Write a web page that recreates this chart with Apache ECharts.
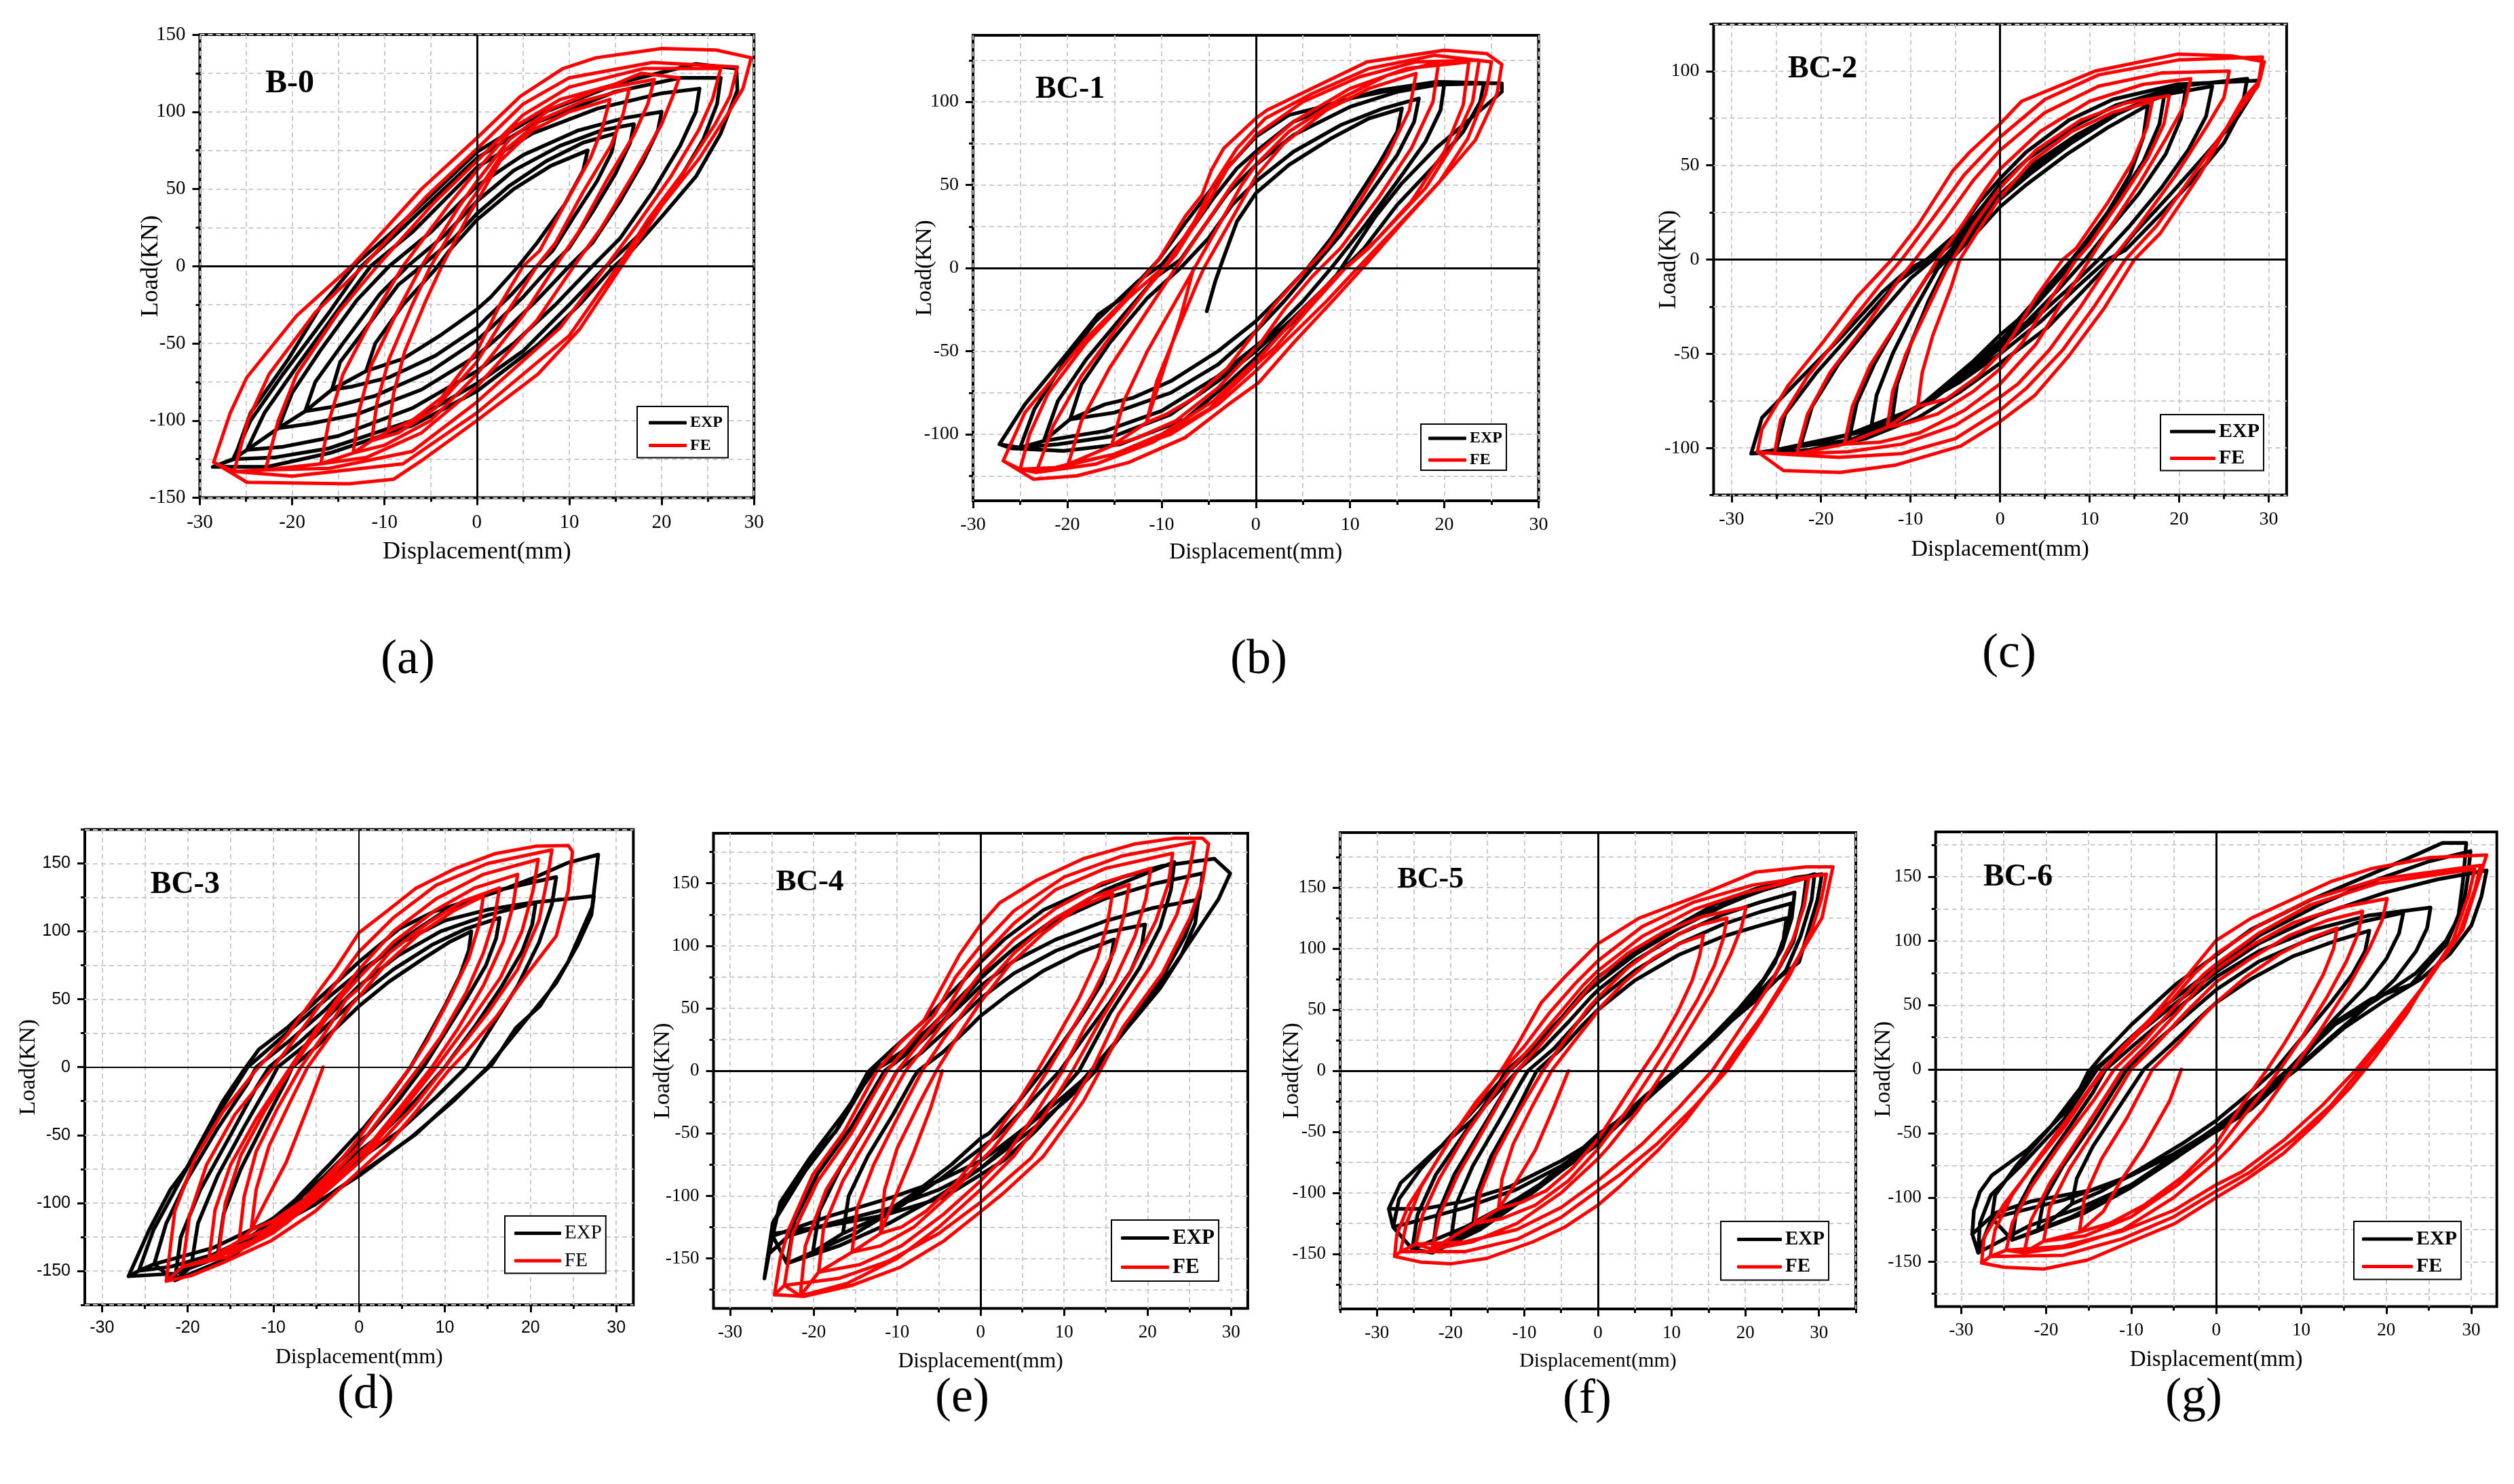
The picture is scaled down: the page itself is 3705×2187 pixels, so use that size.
<!DOCTYPE html>
<html><head><meta charset="utf-8">
<script src="https://cdn.jsdelivr.net/npm/echarts@6/dist/echarts.min.js"></script>
<style>html,body{margin:0;padding:0;background:#fff}#c{width:3705px;height:2187px}</style>
</head><body><div id="c"></div>
<script>
// ---------------- DATA ----------------
const panelTitles = ['B-0','BC-1','BC-2','BC-3','BC-4','BC-5','BC-6'];
const subLabels = ['(a)','(b)','(c)','(d)','(e)','(f)','(g)'];
const seriesNames = ['EXP','FE'];
const xAxisTitle = 'Displacement(mm)';
const yAxisTitle = 'Load(KN)';
const xMajor = [-30,-20,-10,0,10,20,30];
const xMinor = [-25,-15,-5,5,15,25];
const xMinorWide = [-35,-25,-15,-5,5,15,25,35];
const yMajor150 = [-150,-100,-50,0,50,100,150];
const yMajor100 = [-100,-50,0,50,100];
const yMinor125 = [-125,-75,-25,25,75,125];
const yMinor175 = [-175,-125,-75,-25,25,75,125,175];
const xRanges = [[-30,30],[-30,30],[-32,32],[-32,32],[-32,32],[-35,35],[-33,33]];
const yRanges = [[-150,150],[-140,140],[-125,125],[-175,175],[-190,190],[-195,195],[-185,185]];

const aExp = [
[-12,-68],[-11,-50],[-8,-25],[-4.5,-2],[-3,10],[0,30],[4,50],[8,65],[12,75],[11.5,62],[9.5,40],[6.5,15],[4.5,0],[1.5,-20],[0,-28],[-4,-45],[-8,-60],[-12,-68],
[-15.7,-80],[-14.8,-62],[-12,-40],[-8.5,-12],[-6,0],[-2.5,18],[0,34],[3.5,52],[7.5,68],[11.5,80],[15,86],[14.6,74],[13,55],[10.5,32],[8.2,10],[6.5,0],[3.8,-18],[1,-34],[0,-40],[-4.5,-58],[-9.5,-72],[-13.5,-78],[-15.7,-80],
[-18.6,-94],[-17.5,-75],[-14.5,-50],[-10.5,-18],[-7.5,0],[-3.5,20],[0,42],[4,62],[9,78],[13.5,88],[17,92],[16.6,80],[15,60],[12.5,35],[10,12],[8,0],[5,-20],[1.5,-40],[0,-48],[-5,-68],[-11,-84],[-15.5,-91],[-18.6,-94],
[-21.5,-105],[-20,-82],[-17,-55],[-13,-22],[-9.5,0],[-5,22],[0,52],[5,72],[11,88],[16,96],[20,100],[19.6,88],[18,68],[15.5,42],[12.5,15],[10,0],[6.5,-22],[2.5,-45],[0,-58],[-6,-80],[-13,-96],[-18,-102],[-21.5,-105],
[-24.9,-119],[-23,-95],[-19.5,-65],[-15,-28],[-11.5,0],[-7,22],[0,64],[6,86],[13,102],[20,112],[24.1,115],[23.7,100],[22,78],[19,48],[15.5,18],[12.5,0],[8.5,-25],[4,-50],[0,-68],[-7,-92],[-15,-110],[-21,-117],[-24.9,-119],
[-26.4,-125],[-24.5,-100],[-21,-70],[-16,-30],[-12.5,0],[-8,25],[0,70],[6,92],[15,113],[22,122],[26.4,122],[26,105],[24.5,82],[21.5,52],[17.5,20],[14,0],[10,-25],[5,-55],[0,-76],[-7,-100],[-16,-118],[-22,-124],[-26.4,-125],
[-28.6,-130],[-26.3,-125],[-24.5,-95],[-20.4,-60],[-16.8,-25],[-13.2,1],[-9.2,22],[0,74],[6.6,98],[15.6,119],[23.7,131],[28.1,128],[28.2,114],[26.4,86],[23.7,58],[20,32],[16.9,11],[14.7,-1],[11.1,-25],[6.6,-51],[0,-81],[-6.9,-103],[-15.9,-121],[-22.7,-130],[-28.6,-130]
];
const aFe = [
[-9.6,-107],[-9,-82],[-7.8,-55],[-5.5,-22],[-3.8,0],[-1,32],[0,42],[2.5,68],[6,88],[10,100],[14.4,108],[13.6,90],[12.3,70],[9.5,40],[6.8,10],[5,0],[2.5,-25],[0,-55],[-3.8,-85],[-7,-100],[-9.6,-107],
[-11.4,-113],[-10.8,-88],[-9.5,-60],[-7,-25],[-5,0],[-1.5,35],[0,48],[3,75],[7,95],[11.5,107],[16.5,115],[15.8,98],[14.5,78],[11.5,48],[8.5,15],[6.5,0],[3.5,-28],[0,-62],[-4.5,-92],[-8.5,-108],[-11.4,-113],
[-13.4,-121],[-12.8,-95],[-11.5,-65],[-8.5,-28],[-6,0],[-2,38],[0,55],[3.5,82],[8,102],[13,114],[19.2,121],[18.5,105],[17,85],[14,55],[11,22],[8.5,0],[5,-32],[0,-70],[-5,-100],[-10,-116],[-13.4,-121],
[-16.9,-128],[-16,-100],[-14.5,-70],[-11,-30],[-8,0],[-3,40],[0,62],[4,90],[9,108],[15,118],[17.8,125],[21.9,122],[21.2,110],[20,92],[17,60],[13.5,25],[10.5,0],[6.5,-35],[0,-78],[-6,-108],[-12,-124],[-16.9,-128],
[-22.9,-132],[-21.5,-100],[-19.5,-70],[-15,-30],[-10.8,0],[-4.5,42],[0,68],[5,98],[10,116],[18,128],[26.4,128],[25.5,108],[24,88],[21,58],[17,24],[14,0],[9,-40],[0,-88],[-7,-120],[-16,-131],[-22.9,-132],
[-26.3,-133],[-24.8,-100],[-22.5,-70],[-17.5,-30],[-12.3,0],[-5.5,45],[0,76],[5,105],[10,122],[19,132],[28.2,129],[27.4,110],[25.8,92],[22.5,62],[18.5,30],[15.5,2],[10,-45],[0,-95],[-8,-128],[-20,-136],[-26.3,-133],
[-28.5,-127],[-26.7,-95],[-24.9,-72],[-19.5,-32],[-13.4,1],[-6,50],[0,83],[4.7,110],[9.3,128],[12.9,135],[20,141],[25.9,140],[29.7,135],[28.8,115],[27.3,100],[24.1,70],[20,39],[16.9,11],[11.1,-41],[6.6,-70],[0,-100],[-6,-126],[-9,-138],[-13.9,-141],[-24.9,-140],[-28.5,-127]
];

const bExp = [
[-5.2,-26],[-4.3,-8],[-3.5,5],[-2,28],[0,45],[3.5,62],[8,78],[12,90],[15.5,96],[15,82],[13,62],[10.5,40],[8,18],[5.5,0],[2.5,-18],[0,-32],[-4,-50],[-9,-68],[-13,-78],[-16,-82],
[-19.7,-91],[-18.5,-70],[-15.5,-45],[-11.5,-18],[-8,0],[-5,18],[-2.5,38],[0,52],[4,70],[9,86],[13.5,96],[17.3,102],[16.8,88],[15,68],[12,44],[9,20],[6,0],[3,-20],[0,-38],[-4,-58],[-9,-75],[-15,-87],[-19.7,-91],
[-22.5,-104],[-21,-80],[-18,-55],[-14,-28],[-10.5,-5],[-8,5],[-5.5,25],[-3,45],[0,62],[4,80],[10,97],[15,106],[20,111],[19.6,95],[18,76],[15,52],[11.5,25],[8,0],[5,-20],[1.5,-40],[0,-47],[-4,-65],[-10,-86],[-16,-98],[-22.5,-104],
[-25,-108],[-23.5,-85],[-20.5,-58],[-17,-32],[-12.5,-8],[-10,2],[-7,22],[-4.5,42],[-2,60],[0,70],[4,88],[10,102],[17,110],[24.2,111],[23.8,100],[22,82],[19,62],[15,38],[11.5,12],[8,-8],[4,-30],[0,-50],[-4,-68],[-9,-88],[-15,-101],[-21,-106],[-25,-108],
[-27.2,-106],[-24.5,-82],[-20.4,-54],[-16.7,-28],[-13.9,-17],[-10.3,5],[-7.5,27],[-5.2,44],[-2.9,61],[0,79],[3.5,92],[6.3,96],[13.2,107],[19.1,112],[26.1,111],[26.1,106],[25.1,101],[22.8,90],[19.1,72],[15.5,51],[12.7,31],[8.6,-4],[4,-32],[0,-54],[-2.9,-69],[-7.5,-91],[-14.4,-106],[-20.4,-110],[-25.9,-108.5],[-27.2,-106]
];
const bFe = [
[-6.6,0],[-8,-30],[-10,-65],
[-11.6,-93],[-10.5,-68],[-8.5,-40],[-6.3,-10],[-5.5,0],[-3,25],[-0.5,50],[0,55],[3,75],[7.5,95],[12,108],[17,117],[16.3,95],[14,68],[11,40],[7.5,12],[5,-3],[2,-22],[0,-38],[-3,-60],[-6.5,-78],[-9.5,-88],[-11.6,-93],
[-15.3,-107],[-14,-80],[-11.5,-50],[-8.5,-20],[-6.5,0],[-4,25],[-1.5,50],[0,62],[3.5,82],[9,102],[14,116],[19.4,124],[18.8,100],[16.5,72],[13,42],[9,12],[6,-5],[3,-25],[0.5,-45],[0,-48],[-4,-72],[-8.5,-92],[-12.5,-102],[-15.3,-107],
[-19.9,-118],[-18.5,-92],[-15.5,-60],[-12,-30],[-8.5,0],[-5.5,25],[-2.5,50],[0,68],[4,88],[10,108],[16,120],[22.6,124],[22,98],[20,70],[16.5,40],[12,12],[8.5,-5],[5,-25],[1,-50],[0,-56],[-4.5,-80],[-10,-100],[-15,-112],[-19.9,-118],
[-23.3,-123],[-21.5,-95],[-18.5,-65],[-15,-38],[-11.5,-12],[-8.5,8],[-5.5,35],[-3,60],[0,80],[5,100],[11,115],[17,124],[23.7,125],[23,100],[21,75],[18,48],[13,18],[9.5,0],[6,-22],[2,-48],[0,-58],[-5,-85],[-11,-105],[-17,-118],[-23.3,-123],
[-25,-121],[-24,-100],[-22,-75],[-18,-45],[-13.5,-18],[-9.5,2],[-6.5,28],[-4.5,50],[-2,72],[1,90],[6,105],[12,120],[19,128],[25,124],[24.4,105],[22.5,78],[19.5,52],[14.5,22],[10.8,0],[7.5,-20],[3,-45],[0,-62],[-4,-82],[-9,-100],[-15,-112],[-21,-120],[-25,-121],
[-26.8,-116],[-24.5,-87],[-21.3,-65],[-18.1,-43],[-13.9,-19],[-10.3,5],[-7.5,31],[-5.7,44],[-4.7,59],[-3.4,72],[0,90],[1.2,95],[6.3,109],[11.8,124],[20,131],[24.5,129],[26.1,122.5],[25.6,105],[23.3,77],[20,55],[15.5,27],[11.8,3],[8.6,-17],[4,-45],[0.3,-69],[-2.9,-82],[-7.5,-102],[-13.5,-117],[-19,-125],[-23.6,-127],[-26.8,-116]
];

const cExp = [
[-12.1,-86],[-11.5,-66],[-10,-45],[-8,-22],[-6,-3],[-5.5,0],[-2.5,15],[0,28],[3,40],[7.5,56],[12,70],[16.5,82],[16,65],[14.5,45],[12,25],[9,6],[8,0],[5,-16],[2,-32],[0,-40],[-3,-54],[-6.5,-68],[-9.5,-80],[-12.1,-86],
[-14.5,-92],[-13.8,-72],[-12,-50],[-9.5,-26],[-7,-5],[-6,0],[-3,15],[-0.5,30],[3.5,46],[8,62],[13,77],[18.4,89],[17.8,72],[16,52],[13,30],[10,10],[8.5,0],[5.5,-16],[2.5,-32],[0,-43],[-3,-56],[-7,-72],[-11,-85],[-14.5,-92],
[-16.9,-96],[-16,-76],[-14,-55],[-11,-30],[-8,-8],[-6.5,0],[-3.5,15],[-1,30],[4,50],[9,66],[14,80],[20.8,92],[20.2,75],[18.5,56],[15.5,35],[12,15],[9.5,0],[6.5,-16],[3,-33],[0,-45],[-3.5,-60],[-8,-76],[-12.5,-88],[-16.9,-96],
[-22.3,-99],[-21,-78],[-18,-55],[-14,-32],[-10,-10],[-7.5,0],[-4,14],[-1.5,28],[3.5,50],[8.5,66],[14,80],[19,88],[23.7,92],[23,76],[21,58],[18,38],[14.5,18],[11,0],[7.5,-16],[3.5,-33],[0,-47],[-4,-62],[-9,-78],[-15,-91],[-22.3,-99],
[-25,-101],[-24,-82],[-20.5,-60],[-16,-36],[-11.5,-12],[-8,0],[-4.5,14],[-2,28],[0,40],[3,53],[8,70],[13,82],[20,92],[27.6,96],[27,80],[25,62],[21.5,42],[17.5,22],[14,5],[12,0],[8.5,-15],[4.5,-33],[0,-50],[-4.5,-65],[-10,-80],[-17,-93],[-25,-101],
[-27.8,-103],[-26.6,-84],[-22.7,-65],[-17.9,-42],[-13.1,-17],[-10.2,-5],[-8.2,0],[-4.8,14],[-2.4,30],[0,43],[2.9,57],[7.7,74],[12.6,85],[19.8,93],[28.8,95],[28.8,93],[26.6,76],[23.2,57],[18.9,34],[15,14],[12.6,0],[9.2,-17],[5.3,-36],[0,-55],[-4.4,-70],[-9.2,-84],[-15,-95],[-21.3,-101],[-27.8,-103]
];
const cFe = [
[-9.2,-78],[-8.7,-60],[-7.5,-40],[-5.5,-15],[-4.5,0],[-2.5,15],[0,33],[3.5,52],[8,68],[12.5,78],[17,84],[16.4,70],[14.8,52],[12,30],[8.5,6],[7,0],[4,-20],[1.5,-40],[0,-50],[-2.5,-62],[-6,-74],[-9.2,-78],
[-12.6,-89],[-12,-70],[-10.5,-50],[-8,-25],[-6,-5],[-5.3,0],[-3,18],[0,38],[4,58],[9,74],[14,83],[18.9,87],[18.3,72],[16.5,54],[13.5,32],[10,8],[8.5,0],[5.5,-22],[2.5,-44],[0,-58],[-3,-70],[-7,-82],[-10.5,-87],[-12.6,-89],
[-17.4,-98],[-16.5,-78],[-14.5,-56],[-11,-30],[-8,-8],[-7,0],[-4,20],[-1.5,38],[0,48],[4.5,68],[10,84],[16,93],[21.3,96],[20.6,82],[18.5,64],[15.5,40],[12,15],[10,0],[7,-22],[4,-45],[0,-66],[-4,-80],[-9,-92],[-13.5,-97],[-17.4,-98],
[-22.7,-103],[-21.5,-82],[-19,-60],[-15,-35],[-11.5,-12],[-9.5,0],[-6,22],[-3,42],[0,58],[5,78],[11,92],[18,99],[25.6,100],[25,86],[23,70],[19.5,44],[15.5,18],[12.5,0],[9,-25],[5.5,-48],[2,-66],[0,-73],[-5,-88],[-11,-98],[-17,-102],[-22.7,-103],
[-25.2,-103],[-24.5,-85],[-21.5,-62],[-17.5,-38],[-13.5,-14],[-11,0],[-7.5,22],[-4,45],[0,65],[5,85],[11,98],[20,106],[29.3,107.5],[28.8,92],[26.5,78],[22,48],[17.5,18],[14,0],[10.5,-25],[7,-48],[3,-68],[0,-80],[-5,-95],[-11,-103],[-18,-105],[-25.2,-103],
[-27.1,-102],[-26.6,-90],[-23.7,-67],[-19.8,-44],[-16,-20],[-12.1,0],[-9.2,18],[-5.3,47],[-3.4,57],[0,72],[2.4,84],[10.6,100],[19.8,109],[26,108],[29.5,105],[29,95],[27.1,85],[22.3,45],[17.9,14],[15,0],[11.6,-26],[7.7,-51],[3.9,-72],[0,-86],[-4.4,-99],[-11.6,-109],[-17.9,-113],[-24.2,-112],[-27.1,-102]
];

const dExp = [
[-16.5,-138],[-15.8,-108],[-13.8,-75],[-11,-40],[-8.5,-10],[-7.8,0],[-5,15],[-2,33],[0,45],[3.5,63],[7.5,80],[10.5,92],[13.1,100],[12.8,86],[11.8,68],[10,45],[8,22],[6,0],[3.5,-22],[0.5,-45],[0,-48],[-3.5,-72],[-7.5,-98],[-12,-122],[-16.5,-138],
[-19.6,-147],[-18.8,-115],[-16.5,-80],[-13.5,-45],[-10.5,-12],[-9.5,0],[-6.5,15],[-3,35],[0,52],[4,72],[8.5,90],[12.5,102],[16.4,110],[16,95],[14.8,75],[12.5,50],[10,25],[7.5,0],[4.5,-25],[1,-50],[0,-55],[-4,-80],[-9,-108],[-14,-132],[-19.6,-147],
[-21.5,-157],[-20.8,-125],[-18.5,-90],[-15,-50],[-12,-15],[-10.5,0],[-7,18],[-3.5,38],[0,60],[4.5,82],[9.5,100],[15,112],[20.6,121],[20.2,105],[19,85],[16.5,58],[13.5,30],[10,0],[6.5,-25],[2.5,-50],[0,-62],[-4.5,-88],[-9.5,-115],[-15,-140],[-21.5,-157],
[-23.9,-145],[-22.5,-115],[-20,-82],[-16.5,-45],[-13,-12],[-12,0],[-8,20],[-4,42],[0,68],[5,94],[10,115],[16,130],[23,140],[22.5,120],[21,92],[18.5,60],[15.5,30],[12.5,0],[9,-22],[4.5,-48],[0,-68],[-5,-92],[-11,-115],[-17,-133],[-23.9,-145],
[-25.7,-150],[-24,-120],[-21,-85],[-17.5,-45],[-14.5,-15],[-13,0],[-9,22],[-5,44],[0,70],[5,92],[10,108],[15,116],[20,121],[27.4,126],[27.1,112],[25.5,90],[23,62],[19.5,35],[15,0],[11,-25],[6,-52],[0,-80],[-5,-100],[-11,-120],[-17,-138],[-22,-147],[-25.7,-150],
[-26.9,-154],[-24.5,-120],[-22,-90],[-20.1,-74],[-15.9,-25],[-13.6,-3.5],[-11.7,13],[-8.4,29],[-4.7,50.5],[0,77.6],[4.7,102],[8.9,115],[16,129],[20.6,140],[24.4,150.6],[27.9,156.5],[27.6,140],[27.2,118],[24.4,77.6],[21.1,45],[18.3,29],[15.5,2],[11.3,-22],[6.6,-49.5],[0,-79],[-5.1,-101],[-11.2,-122],[-16.8,-141],[-21.5,-152],[-26.9,-154]
];
const dFe = [
[-4.2,0],[-6,-30],[-8.5,-70],[-11,-100],
[-12.6,-120],[-12,-90],[-10.5,-58],[-8,-25],[-6,0],[-3.5,22],[-1,45],[0,52],[3,75],[7,98],[11,115],[14.5,126],[14,105],[12.8,80],[10.5,50],[8,20],[6,0],[3,-25],[0,-52],[-3,-75],[-6.5,-98],[-10,-113],[-12.6,-120],
[-14,-128],[-13.4,-95],[-12,-62],[-9.5,-30],[-6.8,0],[-4,25],[-1.5,50],[0,58],[3.5,84],[8,106],[12,122],[16.4,132],[15.8,110],[14.5,84],[12.5,55],[9.5,22],[7,0],[4,-25],[0,-58],[-3.5,-82],[-7.5,-105],[-11,-120],[-14,-128],
[-16.4,-137],[-15.6,-100],[-13.8,-65],[-11,-32],[-7.8,0],[-5,25],[-2,52],[0,66],[4,92],[9,116],[13.5,132],[18.5,142],[18,120],[16.8,92],[14.5,60],[11.5,28],[8.5,0],[5,-28],[1.5,-55],[0,-64],[-4,-88],[-8.5,-112],[-12.5,-128],[-16.4,-137],
[-17.5,-141],[-16.8,-105],[-15,-72],[-12,-38],[-8,0],[-5,28],[-2,55],[0,72],[4,100],[9,124],[14.5,142],[20.9,153],[20.3,130],[19,100],[16.5,66],[13,34],[9,0],[5.5,-28],[2,-55],[0,-66],[-4,-90],[-8.5,-115],[-13,-132],[-17.5,-141],
[-20.6,-147],[-19.8,-110],[-17.8,-72],[-14.5,-35],[-10,0],[-7,25],[-3.5,55],[0,85],[4,110],[9,134],[15,150],[22.5,160],[22,140],[21,108],[18.5,72],[15,40],[10,0],[6.5,-28],[3,-52],[0,-70],[-4.5,-95],[-10,-122],[-15.5,-140],[-20.6,-147],
[-22.5,-157.6],[-21.5,-106],[-19.2,-68],[-15.9,-33],[-12.2,-3.5],[-8.4,23.5],[-4.7,56],[-2.8,72],[0,99],[2.8,112.7],[6.6,131.6],[11.3,146.5],[15.9,157.3],[20.6,162.7],[24.4,163.3],[24.9,158.7],[24.4,130],[23,96.5],[19.7,69.5],[16,37],[12.7,12.7],[10.3,-3.5],[6.6,-33],[3.3,-57.6],[0,-76.5],[-5.1,-106],[-10.3,-128],[-15.9,-144],[-19.6,-153.5],[-22.5,-157.6]
];

const eExp = [
[-16.5,-130],[-15.8,-100],[-13.5,-68],[-10.5,-35],[-8,-5],[-7.5,0],[-4.5,15],[-1.5,34],[0,44],[3.5,62],[7.5,80],[12,95],[16,105],[15.6,90],[14.5,70],[12.5,48],[10,24],[7.5,0],[4.5,-25],[1,-50],[0,-54],[-3.5,-75],[-8,-98],[-12.5,-118],[-16.5,-130],
[-20.1,-145],[-19.3,-112],[-16.8,-78],[-13.5,-42],[-10,0],[-7,15],[-3.5,36],[0,58],[4,78],[9,96],[14.5,110],[19.7,117],[19.3,100],[18,80],[15.5,55],[12.5,28],[9.5,0],[6,-25],[2,-52],[0,-62],[-4.5,-85],[-10,-110],[-15,-130],[-20.1,-145],
[-23.2,-154],[-22.3,-120],[-19.5,-82],[-15.5,-45],[-11.5,0],[-8,18],[-4.5,40],[-1,66],[0,74],[4,98],[9,122],[15,145],[23.2,167],[22.8,145],[21.5,115],[19,82],[15.5,46],[11.8,0],[8.5,-25],[4.5,-52],[0,-78],[-5,-100],[-11,-122],[-17,-140],[-23.2,-154],
[-24.9,-132],[-24,-105],[-20.5,-70],[-16.5,-35],[-12.8,0],[-9,15],[-5.5,33],[-1.5,58],[0,68],[4,88],[9,105],[15,120],[20.5,130],[26.1,137],[25.7,118],[24,92],[21.5,66],[18,38],[13.5,0],[10,-20],[6,-42],[1.5,-65],[0,-72],[-5,-88],[-11,-102],[-18,-116],[-24.9,-132],
[-25.4,-146.5],[-24.5,-118],[-21,-80],[-17,-45],[-13,0],[-9.5,15],[-6,35],[-2,62],[0,75],[4,98],[9,120],[15,138],[21,150],[26.6,158],[26.2,138],[24.5,108],[22,78],[18.5,45],[13.8,0],[10.5,-22],[6.5,-45],[2,-68],[0,-78],[-5,-95],[-11,-110],[-18,-122],[-23,-132],[-25.4,-146.5],
[-25.9,-166],[-24.9,-121.5],[-21.1,-77],[-17.3,-48],[-13.5,-1],[-10.6,17],[-6.8,40],[-2,72.6],[0,87],[2.8,105],[7.5,128.5],[12.3,143],[17,155],[21.8,164],[28,169.7],[29.9,158],[28.5,137.4],[23.2,84.4],[19.4,49],[16.1,22.6],[13.2,0],[9.9,-24.4],[6.6,-48],[2.8,-71.5],[0,-83],[-4.4,-101],[-11.6,-115.6],[-18.7,-124.4],[-24.9,-130.3],[-25.9,-166]
];
const eFe = [
[-4.6,0],[-6,-30],[-8,-65],[-10.5,-105],
[-12,-130],[-11.5,-95],[-10,-62],[-7.5,-28],[-5.3,0],[-3,25],[-0.5,50],[0,55],[3.5,85],[7.5,110],[11.5,130],[15.8,142],[15.2,118],[14,90],[11.8,58],[9,25],[6.8,0],[4,-30],[1,-58],[0,-65],[-3,-90],[-6.5,-112],[-9.5,-125],[-12,-130],
[-15.4,-145],[-14.8,-110],[-12.8,-75],[-10,-38],[-7,0],[-4.5,25],[-1.5,52],[0,64],[4,94],[8.5,120],[13,138],[17.8,149],[17.2,125],[16,96],[13.5,62],[10.5,28],[8,0],[5,-32],[1.5,-62],[0,-72],[-3.5,-98],[-8,-125],[-12,-140],[-15.4,-145],
[-19.4,-161],[-18.8,-125],[-16.5,-88],[-13,-48],[-9,0],[-6,25],[-3,52],[0,78],[4,105],[9,130],[14.5,150],[20.4,162],[19.8,138],[18.5,108],[16,72],[12.5,35],[9.8,0],[6.5,-35],[3,-68],[0,-88],[-4.5,-115],[-9.5,-140],[-14.5,-155],[-19.4,-161],
[-21.6,-180],[-21,-140],[-18.5,-95],[-14.5,-52],[-10,0],[-7,25],[-4,50],[-1.5,78],[0,90],[4,118],[9,145],[15,162],[23,174],[22.5,150],[21,120],[18,80],[14.5,42],[11,0],[8,-32],[4,-68],[0,-95],[-5,-125],[-10,-150],[-16,-170],[-21.6,-180],
[-23.5,-171.5],[-22.5,-130],[-19.5,-88],[-15.5,-50],[-11.2,0],[-8.5,22],[-5.5,45],[-3,75],[0,100],[4,128],[10,155],[17,172],[25.6,183],[25,158],[23.5,125],[20.5,85],[16.5,45],[13.3,0],[10.5,-30],[6,-70],[0,-105],[-5,-130],[-11,-152],[-17,-166],[-23.5,-171.5],
[-24.7,-179],[-24,-150],[-23,-127],[-20.1,-83],[-16.3,-48],[-12.5,-1],[-9.6,22.6],[-6.8,40.3],[-4.9,63.8],[-2.5,93.2],[0,117],[2.3,134.4],[6.6,152],[12.3,169.7],[18.5,181.5],[23.2,186],[26.6,186],[27.3,181.5],[26.6,152],[25.1,122.6],[21.8,78.5],[17,34.4],[14.7,5],[12.3,-24.4],[7.5,-68.5],[2.7,-98],[0,-112.6],[-4.4,-136],[-9.6,-157],[-15.4,-171.5],[-21.1,-180.3],[-24.7,-179]
];

const fExp = [
[-17,-128],[-16.4,-100],[-14.5,-70],[-11.5,-38],[-9,-8],[-8.3,0],[-5,18],[-2,38],[0,50],[5,74],[11,95],[17,110],[22,119],[25.6,125],[25.2,108],[24,88],[21.5,65],[18,42],[14,18],[10.5,0],[7,-18],[3,-40],[0,-52],[-4,-74],[-8.5,-96],[-13,-115],[-17,-128],
[-20,-140],[-19.3,-110],[-17,-78],[-13.5,-42],[-10.5,-10],[-9.5,0],[-6,18],[-3,38],[0,58],[5,82],[11,104],[17,120],[22,130],[26.2,137],[25.8,118],[24.5,95],[22,70],[18.5,45],[14.5,20],[10.5,0],[6.5,-20],[2.5,-42],[0,-55],[-4.5,-78],[-9.5,-102],[-15,-125],[-20,-140],
[-22.5,-149],[-21.8,-118],[-19.5,-85],[-16,-50],[-12.5,-15],[-11,0],[-7.5,18],[-4,40],[-1,60],[0,66],[5,90],[11,112],[17,128],[22,138],[26.7,146],[26.3,125],[25,100],[22.5,75],[19,50],[15,25],[10.8,0],[7,-20],[3,-42],[0,-58],[-5,-82],[-10,-105],[-16,-130],[-22.5,-149],
[-25.2,-146],[-24.5,-118],[-22,-85],[-18,-50],[-14,-16],[-12.5,0],[-9,18],[-5.5,40],[-2,62],[0,72],[5,96],[11,118],[17,136],[22.5,148],[28.3,158],[27.8,135],[26.5,105],[24,78],[20,52],[16,28],[11,0],[7.5,-18],[3.5,-40],[0,-60],[-5,-82],[-11,-105],[-18,-128],[-25.2,-146],
[-27.8,-128],[-27,-105],[-24,-80],[-19.5,-50],[-15,-20],[-12,0],[-8.5,20],[-5,42],[-1.5,65],[0,72],[5,95],[11,117],[17,135],[23,150],[29.4,161],[29,140],[27.5,110],[25.5,82],[21.5,58],[17,35],[12.5,10],[11,0],[8,-16],[4,-38],[0,-58],[-5,-78],[-11,-97],[-18,-112],[-24,-122],[-27.8,-128],
[-28.4,-113],[-26.8,-92],[-22.5,-68],[-17.2,-41],[-13,-13.6],[-10.9,0],[-7.7,22.6],[-4.5,46.7],[-2.4,61.7],[0,76.8],[5.6,101],[10.8,119],[16.1,137],[21.4,149],[26.7,158],[30.4,161],[29.8,140],[27.3,89],[24.1,74],[18.8,46.7],[15.1,25.6],[11.4,4.5],[8.2,-13.6],[3.9,-37.7],[0,-55.7],[-5,-73.8],[-12,-95],[-18.3,-107],[-23.6,-113],[-28.4,-113]
];
const fFe = [
[-4,0],[-6,-30],[-8.5,-65],[-11.5,-95],
[-13.5,-113],[-13,-88],[-11.5,-60],[-9,-30],[-6.3,0],[-3.5,22],[-0.5,45],[0,50],[3.5,72],[7.5,92],[11,104],[14.3,111],[13.8,94],[12.8,74],[10.8,48],[8.2,20],[6,0],[3,-28],[0,-56],[-3.5,-80],[-7,-98],[-10.5,-108],[-13.5,-113],
[-16.7,-125],[-16,-100],[-14,-70],[-11,-36],[-7.5,0],[-4.5,25],[-1.5,50],[0,60],[4,84],[8.5,104],[13,118],[17.5,125],[17,108],[15.8,86],[13.5,58],[10.5,28],[7.5,0],[4,-32],[0,-64],[-4,-90],[-8.5,-110],[-13,-121],[-16.7,-125],
[-22.5,-146],[-21.5,-118],[-19,-85],[-15.5,-48],[-11,0],[-8,20],[-4.5,45],[-1,70],[0,76],[4,96],[9,114],[14,126],[20.1,134],[19.5,118],[18,95],[15.5,65],[12,30],[9,0],[5.5,-32],[1.5,-62],[0,-72],[-5,-100],[-11,-125],[-17,-140],[-22.5,-146],
[-24.7,-142],[-23.8,-118],[-21.5,-88],[-18,-52],[-14,-18],[-12,0],[-9,20],[-5.5,45],[-2,70],[0,82],[6,110],[13,132],[20,146],[28.6,158],[28,135],[26.5,108],[23.5,72],[19.5,36],[15.5,0],[11,-30],[6,-60],[0,-90],[-5,-112],[-11,-130],[-18,-140],[-24.7,-142],
[-26.8,-148],[-26,-125],[-24,-95],[-20.5,-60],[-16.5,-25],[-13,0],[-10,20],[-6.5,48],[-3,72],[0,90],[6,118],[13,138],[21,152],[31,161],[30.3,140],[29,115],[26,78],[22,40],[17.5,0],[13,-30],[8,-60],[3,-85],[0,-98],[-5,-120],[-11,-138],[-18,-148],[-26.8,-148],
[-27.6,-152],[-27.3,-134],[-25.7,-110],[-22.5,-80],[-19.4,-50],[-16.2,-25.6],[-13,1.5],[-10.8,22.6],[-7.7,55.7],[-4.5,76.8],[0,104],[5.6,125],[13.5,143],[21.4,162.7],[28.3,167],[31.9,167],[30.4,125],[28.3,104],[25.6,76.8],[22.5,46.7],[18.8,16.6],[16.1,-7.5],[11.9,-40.7],[8.2,-64.8],[2.9,-95],[0,-110],[-4.5,-128],[-8.8,-140],[-15.1,-153.6],[-19.9,-158],[-24.1,-156.6],[-27.6,-152]
];

const gExp = [
[-17,-105],[-16.4,-85],[-14.5,-60],[-11.5,-30],[-9,-5],[-8.5,0],[-5.5,18],[-2,40],[0,52],[4,70],[9,88],[14,100],[18,108],[17.5,92],[16,74],[13.5,52],[10.5,28],[7,0],[4,-18],[0,-40],[-4,-58],[-9,-78],[-13.5,-95],[-17,-105],
[-21,-126],[-20.3,-102],[-18,-75],[-14.5,-42],[-10.5,0],[-7,22],[-3,45],[0,62],[5,84],[10.5,100],[16.5,114],[22,122],[21.5,106],[20,86],[17.5,64],[14,40],[10.5,14],[8.5,0],[5,-20],[0,-46],[-4.5,-68],[-10,-92],[-15.5,-112],[-21,-126],
[-24,-133],[-23.5,-110],[-21.5,-85],[-18,-52],[-14.5,-18],[-13,0],[-9.5,20],[-5,45],[0,72],[5,92],[11,108],[18,120],[25.2,126],[24.8,110],[23.5,92],[21,70],[17.5,48],[13.5,25],[9.3,0],[5.5,-20],[0,-48],[-5,-70],[-11,-95],[-17,-115],[-24,-133],
[-26.4,-116],[-26,-98],[-23.5,-75],[-19.5,-45],[-14.3,0],[-11,18],[-6,45],[0,76],[5,98],[12,120],[20,138],[26,148],[31.8,155],[31.2,135],[30,112],[27.5,90],[24,70],[19.5,52],[15,32],[9.5,0],[5.5,-20],[0,-46],[-5,-66],[-11,-86],[-18,-102],[-26.4,-116],
[-28,-143],[-27.8,-120],[-26.5,-98],[-22.5,-72],[-18,-40],[-14,0],[-10.5,22],[-5.5,52],[0,80],[5,104],[12,128],[19,148],[25,162],[29.9,170],[29.6,150],[29,125],[27,100],[23.5,75],[19,55],[14,35],[8.5,0],[4.5,-22],[0,-45],[-5,-68],[-10,-90],[-16,-108],[-22,-122],[-28,-143],
[-28.7,-128.5],[-28.5,-110],[-27.8,-95.6],[-26.4,-82.7],[-22.2,-62.7],[-17,-28.3],[-15.1,-2.6],[-13.3,11.7],[-10,34.6],[-4.8,66],[0,89],[4.1,109],[11.1,132],[18.2,152],[23.8,168],[26.6,176.4],[29.4,176.4],[29.2,160],[29,146],[28.5,120.5],[27.1,97.6],[22.9,66],[18.2,54.7],[13.5,34.6],[10.2,8.9],[7.9,-8.3],[4.1,-31.2],[0,-48.4],[-4.8,-65.6],[-10,-82.7],[-14.7,-94.2],[-21.7,-102.8],[-26,-112],[-28.7,-128.5]
];
const gFe = [
[-4.1,0],[-5.5,-25],[-8.5,-60],[-11.5,-90],[-13.3,-111],
[-16.1,-127],[-15.5,-100],[-13.5,-70],[-10.5,-38],[-7.5,0],[-4.5,20],[-1.5,42],[0,52],[3.5,72],[7.5,90],[11,102],[14.2,110],[13.8,94],[12.6,74],[10.5,48],[8,20],[6,0],[3,-28],[0,-58],[-4,-84],[-8.5,-106],[-12.5,-120],[-16.1,-127],
[-20.3,-134],[-19.6,-108],[-17.3,-78],[-14,-44],[-10,0],[-7,20],[-3.5,45],[0,68],[4,86],[8.5,104],[13,116],[17.2,123],[16.7,106],[15.3,84],[13,56],[10,24],[7.5,0],[4,-30],[0,-64],[-4.5,-90],[-10,-115],[-15.5,-130],[-20.3,-134],
[-22.6,-143],[-21.8,-118],[-19.5,-88],[-16,-52],[-11,0],[-8,20],[-4.5,45],[-1,72],[0,78],[4,96],[9,114],[14.5,126],[20.1,133],[19.5,116],[18,94],[15.5,64],[12,28],[9,0],[5.5,-32],[1.5,-62],[0,-72],[-5,-100],[-11,-125],[-17,-138],[-22.6,-143],
[-24.7,-141],[-24,-120],[-21.8,-92],[-18.5,-60],[-14.5,-25],[-12,0],[-8.5,22],[-5,48],[-1.5,74],[0,82],[5,106],[11,128],[19,145],[30.4,156],[29.7,136],[27.8,100],[24.5,66],[20.5,32],[16.5,0],[12.5,-28],[8,-55],[3,-80],[0,-90],[-5,-110],[-11,-126],[-18,-138],[-24.7,-141],
[-26.6,-146],[-26,-125],[-24,-98],[-20.5,-65],[-16.5,-30],[-13.3,0],[-10,22],[-6,48],[-2.5,75],[0,90],[5,112],[11,132],[19,148],[31.1,159],[30.4,140],[28.5,104],[25,70],[21.5,38],[17,0],[13.5,-28],[9,-55],[4,-80],[0,-95],[-5,-115],[-11,-132],[-18,-145],[-26.6,-146],
[-27.6,-151],[-27.3,-131],[-25,-105.6],[-21.7,-77],[-17.9,-45.5],[-14.7,-14],[-11.4,14.6],[-7.6,40.4],[-3.9,69],[0,100.5],[4.1,117.7],[8.8,132],[13.5,146.3],[18.2,156.3],[25.2,165],[31.8,167],[30.8,146.3],[29,109],[25.2,74.7],[22.4,43.2],[18.6,8.9],[15.8,-14],[12.1,-39.8],[7.9,-65.6],[3.6,-85.6],[0,-100],[-4.8,-120],[-10,-134.3],[-15.1,-148.6],[-20.3,-155.7],[-25,-154.3],[-27.6,-151]
];

// ---------------- LAYOUT / STYLE ----------------
const SERIF = '"Liberation Serif","Times New Roman",serif';
const SANS = '"Liberation Sans",Arial,sans-serif';
const expData = [aExp,bExp,cExp,dExp,eExp,fExp,gExp];
const feData = [aFe,bFe,cFe,dFe,eFe,fFe,gFe];
const xMajors = [xMajor,xMajor,xMajor,xMajor,xMajor,xMajor,xMajor];
const xMinors = [xMinor,xMinor,xMinor,xMinor,xMinor,xMinorWide,xMinor];
const yMajors = [yMajor150,yMajor100,yMajor100,yMajor150,yMajor150,yMajor150,yMajor150];
const yMinors = [yMinor125,yMinor125,yMinor125,yMinor175,yMinor175,yMinor175,yMinor175];

const L = [
 {g:[294.5,51,816.7,682.5], tf:SERIF, ts:29, nfx:36, nfy:36, xng:62, yng:54, zw:3, t:[391,100,48],
  lg:{l:939,t:599,pad:[12,8,6,17],iw:56,fs:24,gap:9.5,fw:'bold'}, sub:[601,973]},
 {g:[1434,52,833.5,686], tf:SERIF, ts:28, nfx:33, nfy:34, xng:60, yng:54, zw:3, t:[1526,109,46],
  lg:{l:2094,t:625,pad:[9,6,3,11],iw:56,fs:24,gap:8,fw:'bold'}, sub:[1855,973]},
 {g:[2525.4,35.4,844.5,694.2], tf:SERIF, ts:28, nfx:34, nfy:35, xng:63, yng:48, zw:3, t:[2635,79,46],
  lg:{l:3184,t:611,pad:[10,6,3,14],iw:67,fs:30,gap:9.5,fw:'bold'}, sub:[2961,964]},
 {g:[125,1222.5,808.4,700.4], tf:SANS, ts:25, nfx:32, nfy:34, xng:62, yng:66, zw:2, t:[221.7,1281,46],
  lg:{l:744,t:1792,pad:[11,6,4,14],iw:69,fs:29,gap:11.5,fw:'normal'}, sub:[539,2056]},
 {g:[1051.5,1228,787.4,700.3], tf:SERIF, ts:27, nfx:31.5, nfy:34, xng:62, yng:57, zw:3, t:[1143.6,1278,45],
  lg:{l:1638,t:1798,pad:[11,6,5,14],iw:71,fs:31,gap:12,fw:'bold'}, sub:[1418,2061]},
 {g:[1975,1227,760,702], tf:SERIF, ts:27, nfx:30, nfy:34, xng:62, yng:54, zw:3, t:[2059.4,1275,44],
  lg:{l:2536,t:1800,pad:[12,6,5,24],iw:66,fs:29,gap:11.5,fw:'bold'}, sub:[2339,2063]},
 {g:[2852.7,1226,827,699.6], tf:SERIF, ts:27, nfx:33, nfy:34, xng:62, yng:60, zw:3, t:[2923,1270,46],
  lg:{l:3469,t:1800,pad:[11,6,4,12],iw:75,fs:30,gap:10.5,fw:'bold'}, sub:[3233,2061]}
];

const grid=[], xAxis=[], yAxis=[], series=[], legend=[], title=[], graphic=[];
const split = {show:true, lineStyle:{color:'#cccccc', width:2, type:[7,5]}};
const tickLS = {color:'#000', width:3};

L.forEach((p,i)=>{
  grid.push({left:p.g[0], top:p.g[1], width:p.g[2], height:p.g[3], show:true, borderColor:'#000', borderWidth:4,
    backgroundColor:'transparent', containLabel:false, outerBoundsMode:'none'});
  xAxis.push({type:'value', gridIndex:i, min:xRanges[i][0], max:xRanges[i][1], position:'bottom',
    axisLine:{show:false, onZero:false},
    axisTick:{show:true, inside:false, length:11, lineStyle:tickLS, customValues:xMajors[i]},
    axisLabel:{show:true, customValues:xMajors[i], margin:22, color:'#000', fontFamily:p.tf, fontSize:p.ts},
    splitLine:split, name:xAxisTitle, nameLocation:'middle', nameGap:p.xng, nameMoveOverlap:false,
    nameTextStyle:{fontFamily:SERIF, fontSize:p.nfx, color:'#000'}});
  xAxis.push({type:'value', gridIndex:i, min:xRanges[i][0], max:xRanges[i][1], position:'bottom',
    axisLine:{show:false, onZero:false},
    axisTick:{show:true, inside:false, length:6, lineStyle:tickLS, customValues:xMinors[i]},
    axisLabel:{show:false}, splitLine:split});
  yAxis.push({type:'value', gridIndex:i, min:yRanges[i][0], max:yRanges[i][1], position:'left',
    axisLine:{show:false, onZero:false},
    axisTick:{show:true, inside:false, length:11, lineStyle:tickLS, customValues:yMajors[i]},
    axisLabel:{show:true, customValues:yMajors[i], margin:21, color:'#000', fontFamily:p.tf, fontSize:p.ts},
    splitLine:split, name:yAxisTitle, nameLocation:'middle', nameRotate:90, nameGap:p.yng, nameMoveOverlap:false,
    nameTextStyle:{fontFamily:SERIF, fontSize:p.nfy, color:'#000'}});
  yAxis.push({type:'value', gridIndex:i, min:yRanges[i][0], max:yRanges[i][1], position:'left',
    axisLine:{show:false, onZero:false},
    axisTick:{show:true, inside:false, length:6, lineStyle:tickLS, customValues:yMinors[i]},
    axisLabel:{show:false}, splitLine:split});
  const xi = 2*i, yi = 2*i;
  series.push({type:'line', xAxisIndex:xi, yAxisIndex:yi, data:[], silent:true, z:1, animation:false,
    markLine:{silent:true, symbol:['none','none'], label:{show:false}, animation:false,
      lineStyle:{color:'#000', width:p.zw, type:'solid'}, emphasis:{disabled:true},
      data:[{xAxis:0},{yAxis:0}]}});
  series.push({name:seriesNames[0], type:'line', xAxisIndex:xi, yAxisIndex:yi, data:expData[i], symbol:'none', showSymbol:false,
    lineStyle:{color:'#000', width:5.5, cap:'round', join:'round'}, itemStyle:{color:'#000'}, z:2, animation:false, silent:true});
  series.push({name:seriesNames[1], type:'line', xAxisIndex:xi, yAxisIndex:yi, data:feData[i], symbol:'none', showSymbol:false,
    lineStyle:{color:'#ff0000', width:5, cap:'round', join:'round'}, itemStyle:{color:'#ff0000'}, z:3, animation:false, silent:true});
  const lg = p.lg;
  legend.push({left:lg.l, top:lg.t, orient:'vertical', padding:lg.pad, itemWidth:lg.iw, itemHeight:5, itemGap:lg.gap,
    icon:'roundRect', borderColor:'#000', borderWidth:2, backgroundColor:'#fff', selectedMode:false,
    textStyle:{fontFamily:SERIF, fontWeight:lg.fw, fontSize:lg.fs, lineHeight:lg.fs, color:'#000'},
    data:seriesNames.slice(), z:10});
  title.push({text:panelTitles[i], left:p.t[0], top:p.t[1], padding:0,
    textStyle:{fontFamily:SERIF, fontWeight:'bold', fontSize:p.t[2], color:'#000'}});
  graphic.push({type:'text', x:p.sub[0], y:p.sub[1], silent:true,
    style:{text:subLabels[i], fontFamily:SERIF, fontSize:72, fill:'#000', align:'center', verticalAlign:'middle',
      textAlign:'center', textVerticalAlign:'middle'}});
});

const chart = echarts.init(document.getElementById('c'), null, {renderer:'canvas', width:3705, height:2187});
chart.setOption({backgroundColor:'#fff', animation:false, grid, xAxis, yAxis, series, legend, title, graphic});
</script>
</body></html>
